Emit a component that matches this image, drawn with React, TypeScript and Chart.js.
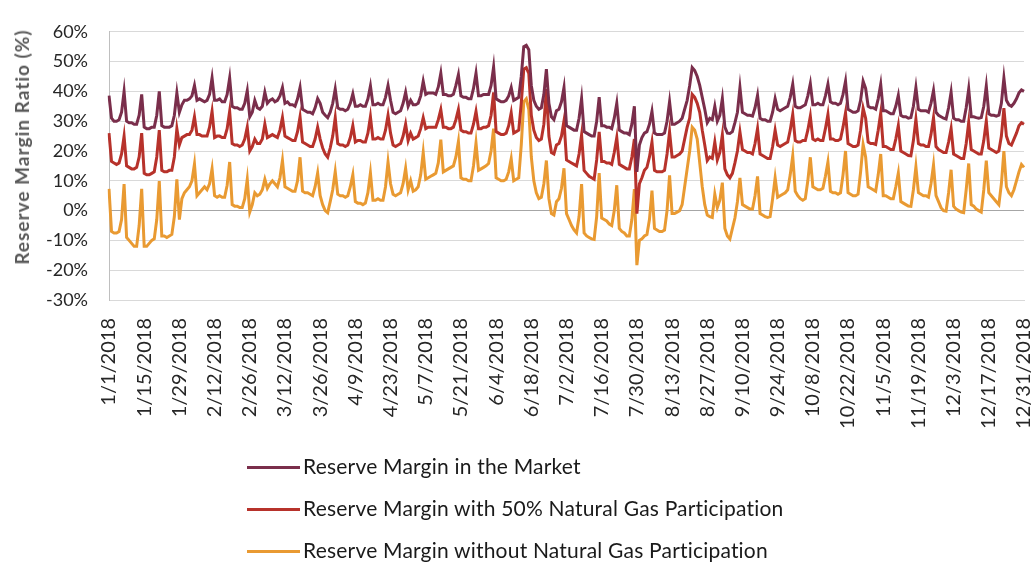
import React, { useEffect, useRef } from "react";
import { Chart, registerables } from "chart.js";

Chart.register(...registerables);

const FONT = "Lato, 'Open Sans', sans-serif";

// Daily categories for 2018 (1/1/2018 ... 12/31/2018)
const categories: string[] = (() => {
  const out: string[] = [];
  const d = new Date(Date.UTC(2018, 0, 1));
  while (d.getUTCFullYear() === 2018) {
    out.push(`${d.getUTCMonth() + 1}/${d.getUTCDate()}/2018`);
    d.setUTCDate(d.getUTCDate() + 1);
  }
  return out;
})();

// every 14th day is labelled on the axis
const tickEvery = 14;

const yTitle = "Reserve Margin Ratio (%)";

const seriesNames = [
  "Reserve Margin in the Market",
  "Reserve Margin with 50% Natural Gas Participation",
  "Reserve Margin without Natural Gas Participation",
];
const seriesColors = ["#7a2e4b", "#b7322b", "#e99a32"];

// Reserve margin in the market (%), one value per day, rows = weeks Mon..Sun
const marketSeries: number[] = [
  38.6, 31, 30, 30, 30.5, 33, 40,
  30, 29.5, 29.5, 29, 29, 32, 39,
  28, 27.5, 27.5, 28, 28, 32, 40,
  28.5, 28, 28, 28, 28.5, 32, 39.5,
  33, 35.5, 37, 37, 37.5, 38.5, 42,
  37, 37.5, 37, 36.5, 37, 39, 44.5,
  37, 37, 37.5, 36.5, 36.5, 39, 44.5,
  35, 34.5, 34.5, 34, 34, 36, 40.2,
  31.5, 33, 37, 34.5, 34, 35, 39.7,
  36, 37, 37.5, 36.5, 37, 38.5, 41.3,
  36, 36.5, 35.5, 35.5, 35, 37.5, 41.3,
  34, 33.5, 33, 33, 32.5, 34.5, 37.6,
  36, 33, 32, 31.2, 33, 36, 40.8,
  34.5, 34, 34, 33.5, 34, 36, 39.2,
  35, 35, 35.5, 35, 35, 37.5, 41.8,
  35.5, 35.5, 36, 35.5, 35.5, 38, 42,
  37, 33, 32.5, 33, 33.5, 36, 39.7,
  35, 37, 35.5, 35.5, 36, 38.5, 43.4,
  39, 39.5, 39.5, 39.5, 39, 41.5, 46.1,
  39, 39, 38.5, 38.5, 39, 42, 45.6,
  38.5, 38, 38, 37.5, 37.5, 41, 46.1,
  38.5, 38.5, 39, 39, 39, 42, 48.2,
  37.5, 37, 36.5, 36.5, 37, 38.5, 41.3,
  37, 37.5, 38, 45, 55, 55.5, 54,
  42, 37, 35, 34, 34.5, 39, 47.5,
  36, 31.5, 30.5, 33.5, 34, 36.5, 41.3,
  28.5, 28, 27.5, 27, 27, 31, 37.6,
  26.5, 26, 25.5, 25, 25, 30, 38.1,
  28.5, 28.5, 28, 28, 27.5, 31, 36,
  27, 26.5, 26, 26, 25.5, 29, 35,
  13, 22, 24.5, 26, 26.5, 29, 33.3,
  26, 25.5, 25.5, 25.5, 26, 30, 36.5,
  29, 29, 29.5, 30, 31, 34, 37,
  42, 48, 47, 45, 42, 38, 34,
  29.5, 31, 30.5, 35, 30, 32, 37.6,
  28, 26, 25.9, 26.5, 29.5, 33, 41.3,
  33, 32.5, 32, 32, 31.7, 34.5, 38.7,
  31, 30.5, 30.5, 30, 30, 33, 37.6,
  34, 33.5, 34, 34.5, 35, 38, 42.4,
  35, 34.5, 34.5, 35, 35.5, 38.5, 42.6,
  35.5, 35.5, 36, 35.5, 35.5, 38.5, 42.4,
  36.5, 36, 36, 35.5, 36, 39, 43.4,
  34, 33.5, 33, 33, 33.5, 37, 43.4,
  41, 35, 34.5, 34.5, 34, 37.5, 42.4,
  33.5, 33.5, 33, 32.5, 32.5, 35, 38.7,
  32, 31.5, 31.5, 31, 31.2, 35, 41.3,
  34, 33.5, 33.5, 33.5, 33, 36, 40.3,
  33, 32, 31.5, 31, 30.7, 34.5, 39.7,
  31, 30.5, 30.5, 30, 30, 34.5, 40.8,
  31.5, 31.5, 31.2, 31, 31.2, 35, 41.8,
  32.5, 32, 32, 31.7, 32, 36, 44.5,
  37, 35.5, 35, 36, 37.5, 39.5, 40.5,
  40,
];

// Reserve margin with 50% natural gas participation (%)
const halfGasSeries: number[] = [
  26, 16.5, 16, 15.5, 16, 19, 25,
  15, 14.5, 14, 14, 14.5, 18, 26,
  12.5, 12, 12, 12.5, 13, 18, 27,
  13.5, 13, 13, 13.5, 13.5, 18, 27.5,
  22, 24.5, 25, 25.5, 25.5, 27, 31.5,
  25.5, 25.5, 25, 25, 25, 28, 33.3,
  24.5, 25, 25, 24.5, 24.5, 27.5, 33.3,
  22.5, 22, 22, 21.5, 22, 24, 28,
  20, 21.5, 24, 22.5, 22.5, 24, 29,
  24.5, 25, 25.5, 25, 24.5, 27, 31.2,
  25, 24.5, 24, 23.5, 23.5, 26.5, 31.5,
  23, 22.5, 22, 21.5, 21.5, 24, 28,
  24, 21, 19, 17.9, 21, 25, 31.2,
  22.5, 22, 22, 21.5, 22, 24.5, 28.5,
  23, 23.5, 23.5, 23, 23, 26, 31.5,
  24, 24, 24.5, 24, 24, 27, 32,
  26, 22, 21.5, 22, 22.5, 25, 29,
  23.5, 26, 24, 24.5, 25, 27.5, 31.2,
  27.5, 28, 28, 28, 28, 30.5, 33.9,
  28, 28, 27.5, 27.5, 28, 30.5, 33.9,
  27, 26.5, 26.5, 26, 26, 29, 33.3,
  27.5, 27.5, 28, 28, 28.5, 32, 39.7,
  26.5, 26, 25.5, 25.5, 26, 28.5, 32.8,
  26, 26.5, 27, 36, 47.5, 48, 46,
  32, 27, 24.5, 23.5, 24, 29, 40.8,
  25, 19.5, 19, 22, 22.5, 25, 30.1,
  17, 16.5, 16, 15.5, 15, 19, 25.4,
  13.5, 12.5, 11.5, 11, 10.5, 17, 26.4,
  16.5, 16.5, 16, 16, 15.5, 19.5, 24.5,
  15.5, 15, 14.5, 14, 14, 18, 24,
  -1, 9, 11, 13.5, 14.5, 18, 23,
  13.5, 13, 13, 13, 13.5, 19, 26.4,
  18, 18, 18.5, 19, 20, 24, 28,
  31, 39, 38, 36, 33, 27, 22,
  16.8, 18, 17.5, 23, 17, 19.5, 25.4,
  14, 12, 11, 12.5, 16, 20, 26.4,
  20.5, 20, 19.5, 19.5, 19, 22.5, 27.5,
  19, 18.5, 18, 17.5, 17.5, 21.5, 27,
  22, 21.5, 22, 22.5, 23, 27, 32.3,
  23.5, 23, 23, 23.5, 23.5, 27, 31.7,
  24, 23.5, 24, 23.5, 23.5, 27.5, 32.3,
  24, 24, 23.5, 23.5, 24, 28, 32.8,
  22.5, 22, 21.5, 21.5, 22, 27, 34.4,
  31, 23, 22.5, 22.5, 22.2, 27, 32.8,
  21.5, 21.5, 21, 20.5, 20.5, 24, 28.5,
  20, 19.5, 19, 18.5, 18.4, 23.5, 30.7,
  22.5, 22, 22, 21.5, 21.5, 25.5, 31.2,
  21.5, 20.5, 20, 19.5, 19.5, 23, 27.5,
  19, 18.5, 18, 17.5, 17.5, 22.5, 29.6,
  20.5, 20, 19.5, 19, 19, 23.5, 30.1,
  21, 20.5, 20, 19.5, 20, 25, 34.4,
  25, 22.5, 22, 24, 26, 28.5, 29.5,
  29,
];

// Reserve margin without natural gas participation (%)
const noGasSeries: number[] = [
  7.3, -7, -7.5, -7.5, -7, -3, 8.9,
  -9, -10, -11, -12, -12, -5, 7.3,
  -12, -12, -11, -10, -9.5, -3, 9.9,
  -8.5, -8.5, -9, -8.5, -8, -2, 10.5,
  -3, 4, 6, 7, 8, 10, 15.6,
  5, 6, 7, 8, 7, 9, 14,
  5, 4.5, 5, 4.5, 4.5, 8.5, 16.3,
  2, 1.5, 1.5, 1, 1, 4, 10.5,
  -0.5, 2, 6, 5, 5.5, 7, 10.5,
  7.5, 9, 10, 9, 8, 11, 16.8,
  8, 7.5, 7, 6.5, 6.5, 10, 17.9,
  6.5, 6, 6, 5.5, 5, 8, 12.6,
  5, 2, 0, -0.7, 3, 7, 13.1,
  5.5, 5, 5, 4.5, 5, 8, 12,
  3, 2.5, 2.5, 2, 2.5, 6, 12.6,
  3.5, 3.5, 4, 3.5, 3.5, 8, 16.3,
  9, 5.5, 5, 5.5, 6, 9, 14.2,
  7, 10, 6.5, 7, 8, 12, 19.5,
  10.5, 11, 11.5, 12, 12.5, 16, 23.8,
  13, 13.5, 14, 14.5, 15, 18, 23.2,
  11, 10.5, 10.5, 10, 10, 15, 22.7,
  13.5, 14, 14.5, 15, 15.8, 20, 27.5,
  11, 10.5, 10, 10, 10.5, 13, 17.4,
  10, 10.5, 11, 22, 36.5, 37.5, 34,
  18, 10, 6, 4, 4.5, 9, 16.8,
  4, -1, -1.5, 3, 4, 7.5, 14.2,
  -1, -3, -5, -6.5, -7.5, -2, 8.9,
  -7.5, -8.5, -9, -9.5, -9.7, -2, 12.6,
  -2.5, -3, -3.5, -4.5, -5, 0, 8.5,
  -6, -7, -7.5, -8.5, -8.5, -3, 7.2,
  -18.3, -10, -9.5, -8.5, -8, -3, 6.7,
  -6, -6.5, -7, -7, -6.5, 0, 11.8,
  -1, -1, -0.5, 0, 2, 8, 14,
  20, 28, 27, 24, 16, 8, 2,
  -1.5, -2, -2.3, 5.5, 1, 3.5, 9.4,
  -6, -8.5, -9.5, -6, -2.5, 3, 11,
  2, 1.5, 1, 0.5, 0.5, 5, 11.5,
  -1, -1.5, -2, -2.3, -2, 4, 11,
  4.5, 5, 5.5, 6, 7, 12, 18.4,
  6.5, 5, 4, 3.5, 4, 10, 17.9,
  8, 7.5, 7, 7, 7.5, 11.5, 16.3,
  6.5, 6, 6, 5.5, 6, 12, 20,
  6, 5.5, 5, 5, 5.5, 13, 22.2,
  18, 8, 7.5, 7, 6.5, 12, 19,
  5, 5, 4.5, 4, 4, 8, 12.6,
  3, 2.5, 2, 1.5, 1.4, 7, 14.7,
  6, 5.5, 5, 5, 4.5, 9, 15.3,
  5, 3, 1, 0, -0.2, 6, 13.7,
  1.5, 0.5, 0, -0.5, -0.7, 7, 15.8,
  2, 1.5, 0.5, 0, -0.5, 7, 16.8,
  6, 5, 4, 3, 2, 9, 20,
  8, 6, 5, 7, 10, 13, 15.5,
  14.5,
];

const yMin = -30;
const yMax = 60;
const yStep = 10;

const legendRowsY = [467, 509, 551];

export default function App() {
  const canvasRef = useRef<HTMLCanvasElement | null>(null);

  useEffect(() => {
    const canvas = canvasRef.current;
    if (!canvas) return;
    const allSeries = [marketSeries, halfGasSeries, noGasSeries];
    const chart = new Chart(canvas, {
      type: "line",
      data: {
        labels: categories,
        datasets: allSeries.map((s, i) => ({
          label: seriesNames[i],
          data: s,
          borderColor: seriesColors[i],
          backgroundColor: seriesColors[i],
          borderWidth: 3,
          pointRadius: 0,
          tension: 0,
          fill: false,
        })),
      },
      options: {
        responsive: false,
        animation: false,
        layout: { padding: { top: 18, right: 8, bottom: 125, left: 0 } },
        plugins: {
          legend: { display: false },
          tooltip: { enabled: false },
        },
        scales: {
          x: {
            type: "category",
            grid: { display: false, drawTicks: false },
            border: { display: true, color: "#d9d9d9" },
            ticks: {
              autoSkip: false,
              maxRotation: 90,
              minRotation: 90,
              padding: 18,
              color: "#262626",
              font: { family: FONT, size: 20 },
              callback: (_v: any, idx: number) =>
                idx % tickEvery === 0 ? categories[idx] : null,
            },
            afterFit: (s: any) => {
              s.height = 140;
              s.paddingLeft = 0;
              s.paddingRight = 8;
            },
          },
          y: {
            min: yMin,
            max: yMax,
            ticks: {
              stepSize: yStep,
              padding: 21,
              color: "#262626",
              font: { family: FONT, size: 18 },
              callback: (v: any) => `${v}%`,
            },
            grid: {
              drawTicks: false,
              color: (ctx: any) =>
                ctx.tick && ctx.tick.value === 0 ? "#a6a6a6" : "#d9d9d9",
              lineWidth: 1,
            },
            border: { display: true, color: "#bfbfbf" },
            title: { display: false },
            afterFit: (s: any) => {
              s.width = 109;
            },
          },
        },
      },
    });
    return () => chart.destroy();
  }, []);

  return (
    <div
      style={{
        position: "absolute",
        left: 0,
        top: 0,
        width: 1032,
        height: 565,
        background: "#ffffff",
        overflow: "hidden",
      }}
    >
      <canvas
        ref={canvasRef}
        width={1032}
        height={565}
        style={{ width: 1032, height: 565, display: "block" }}
      />
      <div
        style={{
          position: "absolute",
          left: 22,
          top: 147,
          transform: "translate(-50%, -50%) rotate(-90deg)",
          whiteSpace: "nowrap",
          fontFamily: FONT,
          fontSize: 19,
          fontWeight: 700,
          letterSpacing: 1,
          color: "#595959",
          lineHeight: "22px",
        }}
      >
        {yTitle}
      </div>
      {seriesNames.map((name, i) => (
        <div key={name}>
          <div
            style={{
              position: "absolute",
              left: 247,
              top: legendRowsY[i] - 1.5,
              width: 53,
              height: 3,
              background: seriesColors[i],
            }}
          />
          <div
            style={{
              position: "absolute",
              left: 303,
              top: legendRowsY[i] - 15,
              height: 28,
              lineHeight: "28px",
              fontFamily: FONT,
              fontSize: 21,
              letterSpacing: 0.2,
              color: "#1a1a1a",
              whiteSpace: "nowrap",
            }}
          >
            {name}
          </div>
        </div>
      ))}
    </div>
  );
}
